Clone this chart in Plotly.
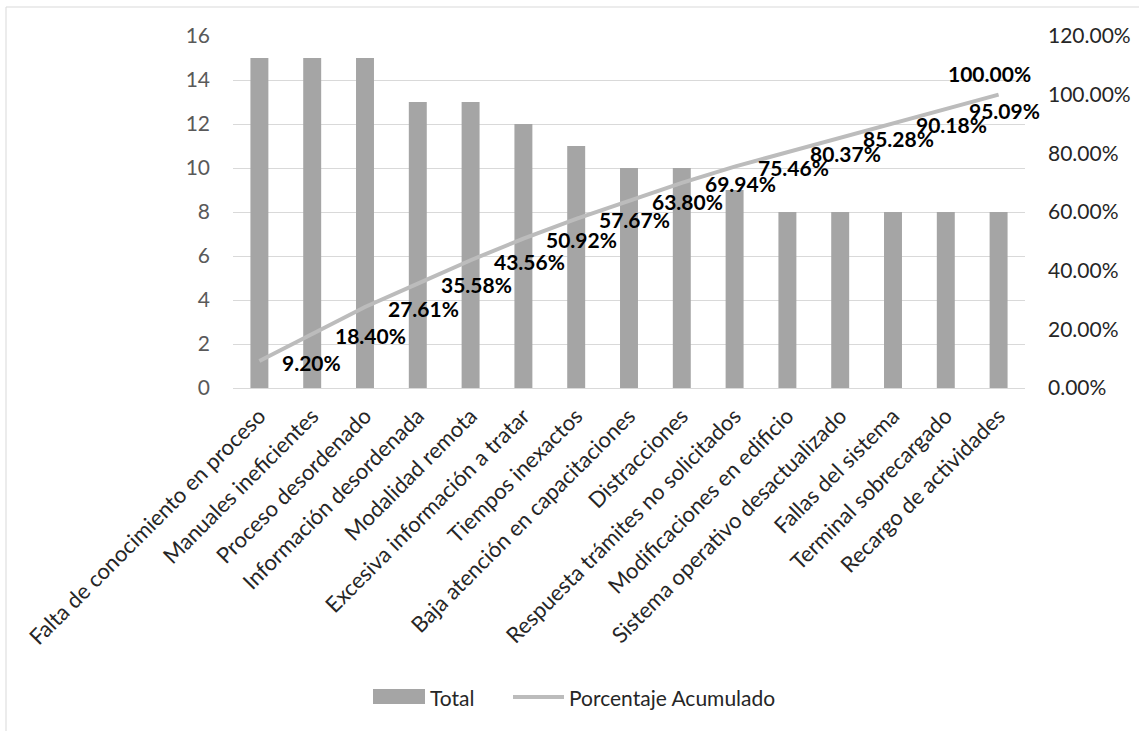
import plotly.graph_objects as go

categories = [
    "Falta de conocimiento en proceso", "Manuales ineficientes", "Proceso desordenado",
    "Información desordenada", "Modalidad remota", "Excesiva información a tratar",
    "Tiempos inexactos", "Baja atención en capacitaciones", "Distracciones",
    "Respuesta trámites no solicitados", "Modificaciones en edificio",
    "Sistema operativo desactualizado", "Fallas del sistema", "Terminal sobrecargado",
    "Recargo de actividades",
]
total = [15, 15, 15, 13, 13, 12, 11, 10, 10, 9, 8, 8, 8, 8, 8]
cum_pct = [0.0920, 0.1840, 0.2761, 0.3558, 0.4356, 0.5092, 0.5767, 0.6380,
           0.6994, 0.7546, 0.8037, 0.8528, 0.9018, 0.9509, 1.0000]
left_ticks = [0, 2, 4, 6, 8, 10, 12, 14, 16]
right_ticks = [0.0, 0.2, 0.4, 0.6, 0.8, 1.0, 1.2]
legend_names = ["Total", "Porcentaje Acumulado"]

BAR = "#A5A5A5"
LINE = "#BCBCBC"
GRID = "#D9D9D9"
TXT = "#595959"
DARK = "#262626"
FONT = "Lato"

W, H = 1139, 731
L, R, T, B = 233, 114, 36, 343
pw = W - L - R
ph = H - T - B


def px_x(px):
    return (px - L) / pw


def px_y(py):
    return (H - B - py) / ph


fig = go.Figure()
fig.add_trace(go.Bar(x=categories, y=total, name=legend_names[0], marker_color=BAR,
                     marker_line_width=0, showlegend=False))
fig.add_trace(go.Scatter(x=categories, y=cum_pct, name=legend_names[1],
                         mode="lines", line=dict(color=LINE, width=4), yaxis="y2",
                         showlegend=False))

for i, (c, v) in enumerate(zip(categories, cum_pct)):
    last = i == len(categories) - 1
    fig.add_annotation(
        x=c, y=v, yref="y2", text=f"<b>{v*100:.2f}%</b>", showarrow=False,
        xanchor="center" if last else "left",
        yanchor="bottom" if last else "middle",
        xshift=-9 if last else 21, yshift=7 if last else -1,
        font=dict(family=FONT, size=21, color="#000000"),
    )

# chart frame (top and left edges visible)
fig.add_shape(type="line", xref="paper", yref="paper", x0=px_x(6), x1=px_x(W + 5),
              y0=px_y(7), y1=px_y(7), line=dict(color=GRID, width=1))
fig.add_shape(type="line", xref="paper", yref="paper", x0=px_x(6), x1=px_x(6),
              y0=px_y(7), y1=px_y(H + 5), line=dict(color=GRID, width=1))

# custom legend
fig.add_shape(type="rect", xref="paper", yref="paper", x0=px_x(373), x1=px_x(425),
              y0=px_y(704), y1=px_y(689), fillcolor=BAR, line=dict(width=0))
fig.add_annotation(xref="paper", yref="paper", x=px_x(428), y=px_y(697),
                   text=legend_names[0], showarrow=False, xanchor="left", yanchor="middle",
                   font=dict(family=FONT, size=21, color=DARK))
fig.add_shape(type="line", xref="paper", yref="paper", x0=px_x(513), x1=px_x(564),
              y0=px_y(697), y1=px_y(697), line=dict(color=LINE, width=4))
fig.add_annotation(xref="paper", yref="paper", x=px_x(567), y=px_y(697),
                   text=legend_names[1], showarrow=False, xanchor="left", yanchor="middle",
                   font=dict(family=FONT, size=21, color=DARK))

fig.update_layout(
    width=W, height=H, margin=dict(l=L, r=R, t=T, b=B, autoexpand=False),
    paper_bgcolor="white", plot_bgcolor="white",
    font=dict(family=FONT, size=21, color=TXT),
    bargap=0.66, showlegend=False,
    xaxis=dict(type="category", range=[-0.5, len(categories) - 0.5], autorange=False,
               tickangle=-45, showgrid=False, showline=False, ticks="",
               ticklabelstandoff=10,
               tickfont=dict(family=FONT, size=22, color=DARK), automargin=False),
    yaxis=dict(range=[0, 16], tickvals=left_ticks, showgrid=True, gridcolor=GRID,
               gridwidth=1, zeroline=True, zerolinecolor=GRID, zerolinewidth=1,
               showline=False, ticks="", ticklabelstandoff=22,
               tickfont=dict(family=FONT, size=21, color=TXT), automargin=False),
    yaxis2=dict(range=[0, 1.2], tickvals=right_ticks, tickformat=".2%", overlaying="y",
                side="right", showgrid=False, zeroline=False, showline=False,
                ticklabelstandoff=22,
                tickfont=dict(family=FONT, size=21, color=DARK), automargin=False),
)

fig.write_html("out.html")
